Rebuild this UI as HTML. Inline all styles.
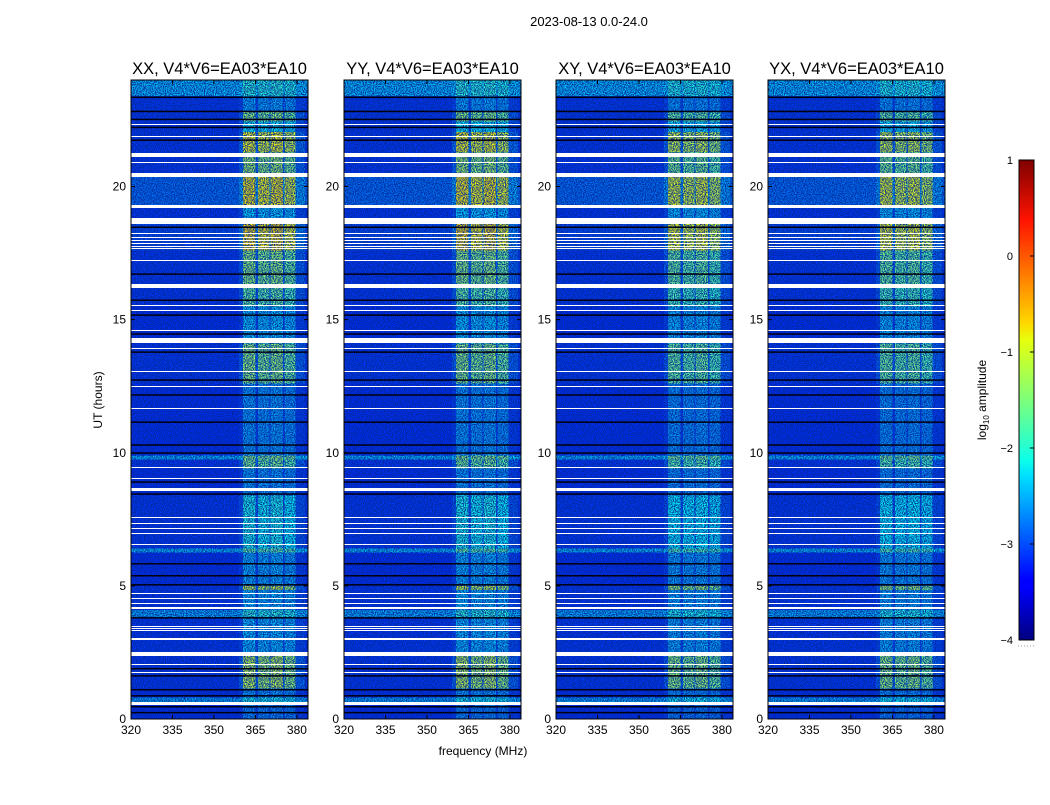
<!DOCTYPE html>
<html><head><meta charset="utf-8">
<style>
body{margin:0;background:#fff;}
svg text{font-family:"Liberation Sans","DejaVu Sans",sans-serif;fill:#000;}
</style></head>
<body>
<svg id="fig" width="1050" height="800" xmlns="http://www.w3.org/2000/svg">
<defs>
<linearGradient id="jetgrad" x1="0" y1="1" x2="0" y2="0">
<stop offset="0" stop-color="#00007f"/><stop offset="0.11" stop-color="#0000ff"/>
<stop offset="0.125" stop-color="#0000ff"/><stop offset="0.34" stop-color="#00ddff"/>
<stop offset="0.375" stop-color="#0dffe9"/><stop offset="0.5" stop-color="#7dff7a"/>
<stop offset="0.625" stop-color="#e6ff0d"/><stop offset="0.66" stop-color="#ffd800"/>
<stop offset="0.875" stop-color="#ff1300"/><stop offset="1" stop-color="#7f0000"/>
</linearGradient>
<filter id="noise" x="0" y="0" width="100%" height="100%">
<feTurbulence type="fractalNoise" baseFrequency="0.9" numOctaves="1" seed="3" result="n"/>
<feColorMatrix in="n" type="matrix" values="0 0 0 0 0  0 0 0 0 0.02  0 0 0 0 0.3  2.8 0 0 0 -0.9"/>
</filter>
</defs>
<text x="589" y="26" font-size="13" text-anchor="middle">2023-08-13 0.0-24.0</text>
<g id="panels"></g>
<text x="483" y="755" font-size="12" text-anchor="middle">frequency (MHz)</text>
<text transform="translate(102,400) rotate(-90)" font-size="12" text-anchor="middle">UT (hours)</text>
<g>
<rect x="1019" y="160" width="15" height="480" fill="url(#jetgrad)" stroke="#000" stroke-width="1"/>
<line x1="1018" x2="1035" y1="646" y2="646" stroke="#999" stroke-dasharray="1,2"/>
<g id="cbticks"></g>
<text transform="translate(986,400) rotate(-90)" font-size="12" text-anchor="middle">log<tspan font-size="8" dy="3">10</tspan><tspan dy="-3"> amplitude</tspan></text>
</g>
</svg>
<script>
// ---- data ----
const panelTitles = ["XX, V4*V6=EA03*EA10","YY, V4*V6=EA03*EA10","XY, V4*V6=EA03*EA10","YX, V4*V6=EA03*EA10"];
const panelGain = [1.0, 1.0, 0.9, 0.9];
const xTicks = [320,335,350,365,380];
const yTicks = [0,5,10,15,20];
const cbTicks = [1,0,-1,-2,-3,-4];
// time segments (hours): start, end, base log amplitude, RFI boost
const segStart = [23.4,22.8,22.45,22.05,21.3,20.5,19.3,18.6,17.6,16.2,15.5,14.1,12.6,9.9,9.75,9.4,8.4,6.4,6.25,5.0,4.85,4.1,3.8,2.4,1.15,0.8,0.63,0];
const segEnd   = [24,23.4,22.8,22.45,22.05,21.3,20.5,19.3,18.6,17.6,16.2,15.5,14.1,12.6,9.9,9.75,9.4,8.4,6.4,6.25,5.0,4.85,4.1,3.8,2.4,1.15,0.8,0.63];
const segBase  = [-2.4,-3.1,-3.1,-3.1,-3.1,-3.1,-2.8,-3.1,-3.0,-3.1,-3.1,-3.15,-3.1,-3.15,-2.4,-3.1,-3.15,-3.1,-2.4,-3.15,-3.1,-3.1,-2.5,-3.1,-3.1,-3.15,-2.5,-3.15];
const segRfi   = [0.5,0.6,1.7,1.0,2.2,1.8,2.0,0.8,2.3,1.7,1.5,0.8,1.7,0.6,1.0,1.6,0.6,1.1,0.8,0.7,2.0,0.7,0.6,0.7,1.9,0.6,0.5,0.5];
// RFI frequency blocks (MHz)
const blockF0 = [360.5,366,370.5,375.5];
const blockF1 = [365,370,375,379.5];
const blockGain = [1.0,0.95,1.0,0.9];
// flagged (white) intervals, hours
const flagStart = [21.09,20.34,19.2,18.6,16.18,14.12,8.58,2.95,2.36,0.52, 22.31,21.86,20.88,18.22,18.07,17.95,17.84,17.73,17.65,17.2,15.51,15.33,14.58,13.9,13.04,12.48,11.65,9.44,9.02,7.56,7.33,7.15,6.96,6.55,4.71,4.52,4.33,4.15,3.47,3.39,3.32,2.04,1.71];
const flagEnd   = [21.27,20.52,19.3,18.8,16.33,14.3,8.66,3.05,2.5,0.63, 22.35,21.9,20.92,18.26,18.11,17.99,17.88,17.77,17.69,17.24,15.55,15.37,14.62,13.94,13.08,12.52,11.69,9.48,9.06,7.6,7.37,7.19,7.0,6.59,4.75,4.56,4.37,4.19,3.51,3.43,3.36,2.08,1.75];
// black (zero) lines, hours
const blackT = [23.34,22.81,22.51,22.21,21.73,18.46,16.7,15.72,15.16,14.45,13.77,12.72,12.16,11.14,10.28,9.98,8.89,8.44,5.82,5.37,5.03,3.79,1.88,1.61,1.09,0.86,0.45,0.23];

// ---- helpers ----
const NS="http://www.w3.org/2000/svg";
function mk(tag,attrs,parent){const e=document.createElementNS(NS,tag);for(const k in attrs)e.setAttribute(k,attrs[k]);parent.appendChild(e);return e;}
function clip(v){return Math.max(0,Math.min(1,v));}
function jet(v){const t=clip((v+4)/5);const r=clip(1.5-Math.abs(4*t-3)),g=clip(1.5-Math.abs(4*t-2)),b=clip(1.5-Math.abs(4*t-1));
 return `rgb(${Math.round(r*255)},${Math.round(g*255)},${Math.round(b*255)})`;}
const panelX=[131,344,556,768], PW=177, PT=80, PB=719;
const F0=320,F1=384,T0=0,T1=24;
const root=document.getElementById('panels');
panelX.forEach((px,p)=>{
 const xs=f=>px+(f-F0)/(F1-F0)*PW;
 const ys=t=>PB-(t-T0)/(T1-T0)*(PB-PT);
 const g=mk('g',{},root);
 
 
 const tt=mk('text',{x:px+PW/2,y:74,'font-size':16.5,'text-anchor':'middle'},g);
 
 
 tt.textContent=panelTitles[p];
 for(let i=0;i<segStart.length;i++){
  const y0=ys(segEnd[i]),y1=ys(segStart[i]);
  const r=mk('rect',{x:px,y:y0,width:PW,height:y1-y0,fill:jet(segBase[i]),'shape-rendering':'crispEdges'},g);
  
  
  const h=mk('rect',{x:xs(359),y:y0,width:xs(383)-xs(359),height:y1-y0,fill:jet(segBase[i]+0.15*segRfi[i]*panelGain[p]),'shape-rendering':'crispEdges'},g);
  
  
  for(let b=0;b<blockF0.length;b++){
   const c=mk('rect',{x:xs(blockF0[b]),y:y0,width:xs(blockF1[b])-xs(blockF0[b]),height:y1-y0,fill:jet(segBase[i]+segRfi[i]*blockGain[b]*panelGain[p]),'shape-rendering':'crispEdges'},g);
   
   
  }
 }
 const nz=mk('rect',{x:px,y:PT,width:PW,height:PB-PT,filter:'url(#noise)'},g);
 
 
 for(let i=0;i<blackT.length;i++){
  const l=mk('rect',{x:px,y:ys(blackT[i])-1,width:PW,height:1.5,fill:'#000010'},g);
  
  
 }
 for(let i=0;i<flagStart.length;i++){
  const y0=Math.round(ys(flagEnd[i])),y1=Math.round(ys(flagStart[i]));
  const w=mk('rect',{x:px,y:y0,width:PW,height:Math.max(1,y1-y0),fill:'#fff','shape-rendering':'crispEdges'},g);
  
  
 }
 const fr=mk('rect',{x:px,y:PT,width:PW,height:PB-PT,fill:'none',stroke:'#000','stroke-width':1},g);
 
 
 xTicks.forEach(v=>{
  const x=xs(v);
  mk('line',{x1:x,x2:x,y1:PB,y2:PB-4,stroke:'#000'},g);
  mk('line',{x1:x,x2:x,y1:PT,y2:PT+4,stroke:'#000'},g);
  const t=mk('text',{x:x,y:PB+15,'font-size':12,'text-anchor':'middle'},g);
  
  
  t.textContent=v;
 });
 yTicks.forEach(v=>{
  const y=ys(v);
  mk('line',{x1:px,x2:px+4,y1:y,y2:y,stroke:'#000'},g);
  mk('line',{x1:px+PW,x2:px+PW-4,y1:y,y2:y,stroke:'#000'},g);
  const t=mk('text',{x:px-5,y:y+4,'font-size':12,'text-anchor':'end'},g);
  
  
  t.textContent=v;
 });
});
const cb=document.getElementById('cbticks');
cbTicks.forEach(v=>{
 const y=640-(v+4)/5*480;
 mk('line',{x1:1030,x2:1034,y1:y,y2:y,stroke:'#000'},cb);
 const t=mk('text',{x:1013,y:y+4,'font-size':11,'text-anchor':'end'},cb);
 
 
 t.textContent=v<0?'\u2212'+Math.abs(v):String(v);
});
</script>
</body></html>
